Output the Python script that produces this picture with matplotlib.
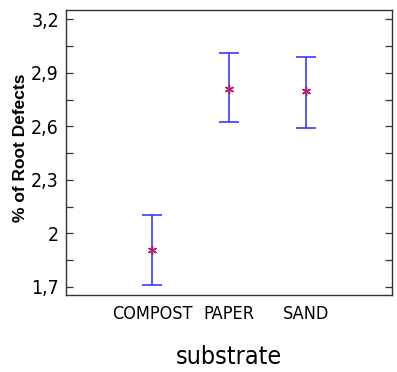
import matplotlib.pyplot as plt
from matplotlib import font_manager
from matplotlib.font_manager import FontProperties

# data
substrates = ['COMPOST', 'PAPER', 'SAND']
means = [1.91, 2.81, 2.796]
lower = [1.711, 2.622, 2.590]
upper = [2.102, 3.011, 2.987]
yticks = [1.7, 2.0, 2.3, 2.6, 2.9, 3.2]
yticklabels = ['1,7', '2', '2,3', '2,6', '2,9', '3,2']

# look for a narrow sans font, otherwise Liberation Sans
narrow_file = None
for f in font_manager.fontManager.ttflist:
    n = (f.name + ' ' + f.fname).lower()
    if ('narrow' in n or 'condensed' in n) and 'bold' not in n and 'oblique' not in n \
            and 'italic' not in n and f.weight in (400, 'normal', 'regular'):
        narrow_file = f.fname
        break


def nfont(size):
    if narrow_file:
        return FontProperties(fname=narrow_file, size=size)
    return FontProperties(family='Liberation Sans', size=size * 0.88)


fig = plt.figure(figsize=(3.97, 3.72), dpi=100)
ax = fig.add_axes([0.166, 0.206, 0.821, 0.767])

x = list(range(len(substrates)))
err = [[m - l for m, l in zip(means, lower)], [u - m for u, m in zip(upper, means)]]
ax.errorbar(x, means, yerr=err, fmt='none', ecolor='#2a2aff', elinewidth=1.1,
            capsize=7.5, capthick=1.1)
ax.plot(x, means, linestyle='none', marker=(6, 2, 0), markersize=6.5,
        markeredgewidth=1.0, color='#b0206a')

ax.set_xlim(-1.117, 3.117)
ax.set_ylim(1.653, 3.252)
ax.set_yticks(yticks)
ax.set_yticks([v + 0.15 for v in yticks[:-1]], minor=True)
ax.set_yticklabels(yticklabels)
ax.tick_params(axis='y', which='both', direction='in', length=5, width=0.9,
               right=True, colors='#333333', labelcolor='black', pad=5)
for lab in ax.get_yticklabels():
    lab.set_fontproperties(nfont(14))

ax.set_xticks(x)
ax.set_xticklabels(substrates)
for lab in ax.get_xticklabels():
    lab.set_fontproperties(nfont(13))
ax.tick_params(axis='x', length=0, pad=7)

for s in ax.spines.values():
    s.set_color('#333333')
    s.set_linewidth(1.0)

ax.set_ylabel('% of Root Defects', family='Liberation Sans', fontweight='bold',
              fontsize=12.5)
ax.yaxis.set_label_coords(-0.115, 0.516)
ax.set_xlabel('substrate', fontproperties=nfont(18), labelpad=16)

fig.savefig('out.png', dpi=100)
